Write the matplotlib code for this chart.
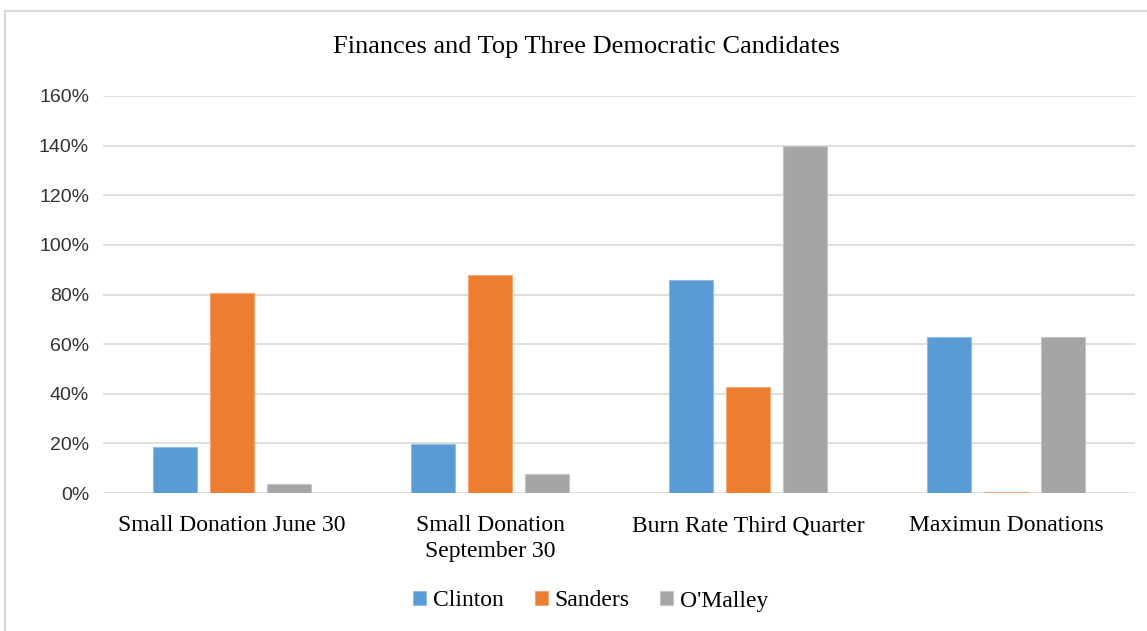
import matplotlib
matplotlib.use("Agg")
import matplotlib.pyplot as plt
import numpy as np
from matplotlib.lines import Line2D

categories = ["Small Donation June 30", "Small Donation\nSeptember 30",
              "Burn Rate Third Quarter", "Maximun Donations"]
series_names = ["Clinton", "Sanders", "O'Malley"]
clinton = [18.7, 19.7, 85.9, 62.8]
sanders = [80.8, 87.7, 42.7, 0.6]
omalley = [3.6, 7.7, 140.0, 62.8]
colors = ["#5B9BD5", "#ED7D31", "#A5A5A5"]
edges = ["#8fbde6", "#f4a878", "#c6c6c6"]

serif = "Liberation Serif"
sans = "Liberation Sans"

fig = plt.figure(figsize=(11.47, 6.31), dpi=100)
ax = fig.add_axes([103 / 1147, 1 - 493 / 631, 1032 / 1147, 397 / 631])

x = np.arange(len(categories))
width = 0.174
step = 0.221
for i, (vals, name) in enumerate(zip([clinton, sanders, omalley], series_names)):
    ax.bar(x + (i - 1) * step, vals, width=width, color=colors[i], label=name,
           edgecolor=edges[i], linewidth=0.8, zorder=3)

ax.set_xlim(-0.5, 3.5)
ax.set_ylim(0, 160)
ax.set_yticks(np.arange(0, 161, 20))
ax.set_yticklabels([f"{v}%" for v in range(0, 161, 20)], fontfamily=sans, fontsize=14, color="#333333")
ax.set_xticks(x)
ax.set_xticklabels(categories, fontfamily=serif, fontsize=17, color="#000000", linespacing=1.3)
ax.tick_params(axis="both", length=0)
ax.tick_params(axis="x", pad=16)
ax.tick_params(axis="y", pad=10)
ax.grid(axis="y", color="#d9d9d9", linewidth=1.2, zorder=0)
for s in ax.spines.values():
    s.set_visible(False)

fig.text(586 / 1147, 1 - 47 / 631, "Finances and Top Three Democratic Candidates",
         ha="center", va="center", fontfamily=serif, fontsize=19)

leg = fig.legend(loc="center", bbox_to_anchor=(591 / 1147, 1 - 601 / 631), ncol=3,
                 frameon=False, prop={"family": serif, "size": 17},
                 handlelength=0.55, handleheight=0.55, handletextpad=0.3, columnspacing=1.3)

# outer chart frame (left and top edges visible)
fig.add_artist(Line2D([5 / 1147, 5 / 1147], [0, 1 - 11 / 631], transform=fig.transFigure,
                      color="#d9d9d9", linewidth=1.5))
fig.add_artist(Line2D([5 / 1147, 1], [1 - 11 / 631, 1 - 11 / 631], transform=fig.transFigure,
                      color="#d9d9d9", linewidth=1.5))

fig.savefig("out.png", dpi=100)
